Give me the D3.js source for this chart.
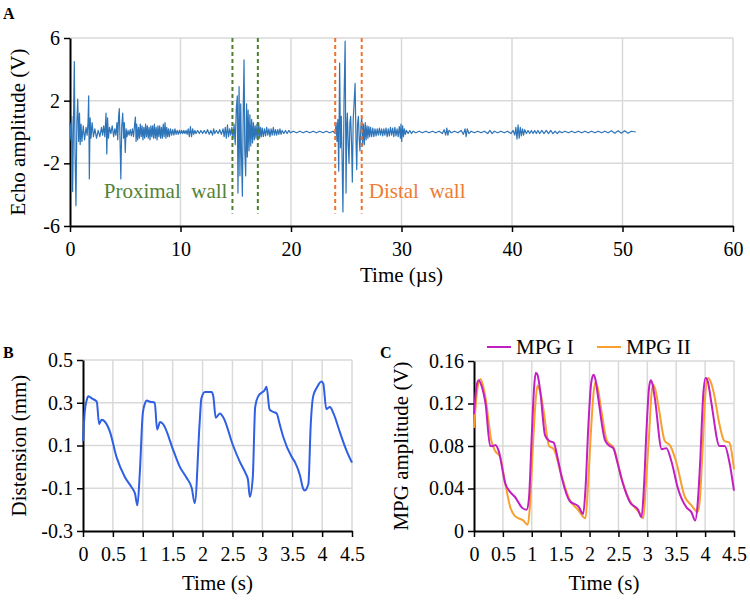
<!DOCTYPE html>
<html><head><meta charset="utf-8">
<script src="https://cdn.jsdelivr.net/npm/d3@7"></script>
<style>body{margin:0;background:#fff}svg{display:block;font-family:"Liberation Serif","Times New Roman",serif}svg text{font-family:"Liberation Serif","Times New Roman",serif}</style>
</head><body><svg id="c" width="750" height="600"></svg>
<script>
// ---------- DATA ----------
// Panel A: echo signal [time µs, amplitude V]
const echoSignal = [[0,0.6],[0.08,-0.5],[0.16,1.0],[0.24,-3.8],[0.32,0.8],[0.39,4.5],[0.46,-1.5],[0.54,-4.7],[0.62,0.6],[0.7,2.1],[0.78,-0.6],[0.86,1.2],[0.92,-0.8],[1.0,0.5],
[1.08,-0.6],[1.2,0.4],[1.32,-0.5],[1.45,0.3],[1.55,-0.2],[1.63,0.6],[1.69,2.3],[1.75,-3.0],[1.82,0.9],[1.9,-0.4],[2.0,0.6],[2.12,-0.3],[2.25,0.2],[2.4,-0.4],[2.55,0.1],[2.7,-0.3],[2.85,0.3],[2.95,-0.2],[3.05,0.4],[3.15,-0.3],[3.26,1.2],[3.33,-1.4],[3.4,0.9],[3.48,-0.4],[3.58,0.3],[3.7,-0.1],[3.82,0.4],[3.95,-0.3],[4.05,0.2],[4.15,-0.2],[4.25,0.6],[4.32,-0.5],[4.4,1.0],[4.46,1.5],[4.53,-0.6],[4.6,-3.0],[4.68,0.3],[4.77,1.2],[4.85,-0.4],[4.92,0.6],[5.0,-1.3],[5.08,0.2],[5.16,-0.3],[5.25,0.1],[5.35,-0.2],[5.45,0.15],[5.55,-0.25],[5.65,0.2],[5.75,-0.3],[5.85,0.5],[5.92,0.95],[5.98,-0.6],[6.04,0.5],[6.12,-0.5],[6.2,0.3],[6.28,-0.4],[6.36,0.5],[6.44,-0.3],[6.52,0.4],[6.6,-0.5],[6.68,0.3],[6.76,-0.4],[6.84,0.5],[6.92,-0.3],[7.0,0.4],[7.08,-0.4],[7.16,0.3],[7.24,-0.5],[7.32,0.4],[7.4,-0.3],[7.48,0.4],[7.56,-0.4],[7.64,0.5],[7.72,-0.4],[7.8,0.3],[7.88,-0.5],[7.96,0.4],[8.04,-0.3],[8.12,0.4],[8.2,-0.4],[8.28,0.3],[8.36,-0.4],[8.44,0.5],[8.52,-0.3],[8.6,0.6],[8.68,-0.4],[8.76,0.3],[8.84,-0.3],[8.92,0.2],[9.0,-0.3],[9.1,0.2],[9.2,-0.2],[9.3,0.15],[9.4,-0.2],[9.5,0.2],[9.6,-0.15],[9.7,0.1],[9.8,-0.15],[9.9,0.1],[10.0,-0.1],
[10.1,0.1],[10.2,-0.1],[10.3,0.1],[10.4,-0.1],[10.5,0.1],[10.6,-0.15],[10.7,0.2],[10.8,-0.3],[10.9,0.35],[11.0,-0.3],[11.1,0.2],[11.2,-0.15],[11.3,0.1],[11.4,-0.1],[11.55,0.1],[11.7,-0.1],[11.85,0.1],[12.0,-0.1],[12.15,0.1],[12.3,-0.1],[12.45,0.15],[12.6,-0.15],[12.75,0.1],[12.9,-0.2],[13.0,0.2],[13.1,-0.1],[13.25,0.1],[13.4,-0.1],[13.55,0.15],[13.7,-0.15],[13.85,0.2],[13.95,-0.3],[14.05,0.3],[14.15,-0.4],[14.25,0.45],[14.35,-0.3],[14.45,0.2],[14.55,-0.2],[14.65,0.3],[14.75,-0.4],[14.85,0.5],
[14.95,-0.8],[15.05,1.5],[15.14,2.3],[15.2,-3.9],[15.3,2.9],[15.38,-2.8],[15.45,1.8],[15.52,-1.5],[15.6,-4.1],[15.68,1.5],[15.75,4.6],[15.82,-1.2],[15.9,-2.8],[15.98,1.8],[16.05,-1.6],[16.12,1.4],[16.2,-1.2],[16.28,1.1],[16.36,-0.9],[16.44,0.8],[16.52,-0.7],[16.6,0.6],[16.68,-0.5],[16.76,0.4],[16.84,-0.4],[16.92,0.5],[17.0,-0.5],[17.08,0.6],[17.16,-0.4],[17.24,0.3],[17.32,-0.3],[17.4,0.25],[17.5,-0.3],[17.6,0.2],[17.7,-0.25],[17.8,0.3],[17.9,-0.2],[18.0,0.2],[18.1,-0.3],[18.2,0.2],[18.3,-0.2],[18.4,0.3],[18.5,-0.2],[18.6,0.15],[18.7,-0.2],[18.8,0.15],[18.9,-0.15],[19.0,0.2],[19.1,-0.15],[19.2,0.1],[19.35,-0.1],[19.5,0.1],[19.65,-0.1],[19.8,0.1],[19.95,-0.05],[20.2,0.05],[20.5,-0.05],[20.8,0.05],[21.1,-0.05],[21.4,0.05],[21.7,-0.05],[22.0,0.05],[22.3,-0.05],[22.6,0.05],[22.9,-0.05],[23.2,0.05],[23.5,-0.05],[23.8,0.05],[24.0,-0.1],
[24.08,0.6],[24.16,-0.6],[24.24,0.8],[24.32,-2.5],[24.4,4.4],[24.48,-1.0],[24.55,1.0],[24.62,-1.5],[24.7,-5.1],[24.8,2.0],[24.9,5.8],[24.98,-3.9],[25.05,0.5],[25.1,1.2],[25.18,-0.8],[25.25,-2.0],[25.33,0.6],[25.4,1.0],[25.48,-0.8],[25.55,-3.2],[25.63,0.8],[25.72,2.0],[25.8,3.1],[25.88,-0.5],[25.95,-2.4],[26.02,0.5],[26.1,1.0],[26.17,-0.4],[26.24,-1.2],[26.32,0.3],[26.4,1.0],[26.48,-0.9],[26.56,0.5],[26.64,-0.8],[26.72,0.6],[26.8,-0.5],[26.88,0.4],[26.96,-0.4],[27.04,0.35],[27.12,-0.3],[27.2,0.3],[27.3,-0.3],[27.4,0.25],[27.5,-0.3],[27.6,0.2],[27.7,-0.25],[27.8,0.2],[27.9,-0.2],[28.0,0.25],[28.1,-0.2],[28.2,0.2],[28.3,-0.25],[28.4,0.2],[28.5,-0.2],[28.6,0.25],[28.7,-0.3],[28.8,0.2],[28.9,-0.25],[29.0,0.3],[29.1,-0.2],[29.2,0.25],[29.3,-0.3],[29.4,0.3],[29.5,-0.25],[29.6,0.2],[29.7,-0.3],[29.8,0.35],[29.9,-0.4],[29.95,0.5],[30.02,-0.6],[30.1,0.4],[30.18,-0.3],[30.26,0.2],[30.35,-0.15],[30.45,0.1],[30.6,-0.1],[30.75,0.1],[30.9,-0.1],[31.05,0.05],[31.3,-0.05],[31.6,0.05],[31.9,-0.05],[32.2,0.05],[32.5,-0.05],[32.8,0.05],[33.1,-0.05],[33.4,0.05],[33.7,-0.1],[33.85,0.15],[34.0,-0.2],[34.1,0.25],[34.2,-0.2],[34.3,0.1],[34.5,-0.05],[34.8,0.05],[35.1,-0.05],[35.4,0.1],[35.6,-0.15],[35.75,0.2],[35.85,-0.3],[35.95,0.2],[36.1,-0.1],[36.3,0.05],[36.6,-0.05],[36.9,0.05],[37.2,-0.05],[37.5,0.05],[37.8,-0.1],[38.0,0.1],[38.2,-0.1],[38.4,0.05],[38.7,-0.05],[39.0,0.05],[39.3,-0.05],[39.6,0.05],[39.9,-0.1],[40.1,0.1],[40.25,-0.2],[40.35,0.3],[40.45,-0.45],[40.55,0.45],[40.65,-0.4],[40.75,0.3],[40.85,-0.25],[40.95,0.2],[41.05,-0.2],[41.15,0.15],[41.3,-0.1],[41.45,0.1],[41.6,-0.1],[41.75,0.1],[41.9,-0.1],[42.05,0.1],[42.2,-0.1],[42.35,0.1],[42.5,-0.1],[42.7,0.1],[42.9,-0.1],[43.1,0.1],[43.3,-0.1],[43.5,0.1],[43.7,-0.1],[43.9,0.05],[44.1,-0.1],[44.3,0.05],[44.5,-0.05],[44.8,0.05],[45.1,-0.05],[45.4,0.05],[45.7,-0.05],[46.0,0.05],[46.3,-0.05],[46.6,0.05],[46.9,-0.05],[47.2,0.05],[47.5,-0.05],[47.8,0.05],[48.1,-0.05],[48.4,0.05],[48.7,-0.05],[49.0,0.08],[49.3,-0.08],[49.6,0.08],[49.9,-0.08],[50.2,0.08],[50.5,-0.08],[50.8,0.05],[51.2,0.0]];
const proximalWall = [14.7, 17.0];
const distalWall = [24.0, 26.4];
const echoXTicks = [0,10,20,30,40,50,60];
const echoYTicks = [-6,-2,2,6];

// Panel B: distension [time s, mm]
const distension = [[0,0.12],[0.03,0.26],[0.06,0.31],[0.09,0.33],[0.15,0.32],[0.23,0.305],[0.27,0.2],[0.31,0.22],[0.37,0.21],[0.45,0.165],[0.56,0.047],[0.7,-0.047],[0.81,-0.094],[0.87,-0.125],[0.91,-0.18],[0.95,-0.03],[1.0,0.25],[1.04,0.3],[1.065,0.31],[1.12,0.305],[1.2,0.30],[1.24,0.175],[1.29,0.21],[1.34,0.2],[1.51,0.078],[1.62,0.0],[1.73,-0.05],[1.82,-0.1],[1.87,-0.17],[1.95,0.2],[1.98,0.32],[2.04,0.35],[2.15,0.35],[2.18,0.33],[2.22,0.23],[2.29,0.25],[2.35,0.23],[2.51,0.1],[2.63,0.02],[2.72,-0.03],[2.76,-0.06],[2.79,-0.14],[2.84,-0.05],[2.88,0.28],[2.93,0.33],[3.04,0.36],[3.07,0.375],[3.12,0.27],[3.16,0.26],[3.24,0.25],[3.29,0.2],[3.35,0.14],[3.49,0.047],[3.55,0.02],[3.63,-0.04],[3.68,-0.1],[3.71,-0.11],[3.77,-0.08],[3.81,0.2],[3.85,0.33],[3.91,0.37],[3.99,0.4],[4.02,0.39],[4.07,0.27],[4.13,0.28],[4.19,0.25],[4.3,0.16],[4.41,0.075],[4.5,0.02]];
const timeTicks = [0,0.5,1,1.5,2,2.5,3,3.5,4,4.5];
const distYTicks = [-0.3,-0.1,0.1,0.3,0.5];

// Panel C: MPG amplitudes [time s, V]
const mpg1 = [[0,0.11],[0.04,0.135],[0.08,0.142],[0.14,0.135],[0.2,0.12],[0.28,0.08],[0.33,0.08],[0.37,0.081],[0.43,0.075],[0.54,0.045],[0.62,0.037],[0.71,0.032],[0.83,0.022],[0.91,0.02],[0.95,0.03],[1.0,0.09],[1.04,0.135],[1.07,0.149],[1.1,0.147],[1.15,0.13],[1.23,0.09],[1.3,0.085],[1.38,0.083],[1.45,0.068],[1.52,0.05],[1.66,0.028],[1.81,0.023],[1.89,0.016],[1.93,0.04],[1.98,0.1],[2.03,0.14],[2.07,0.147],[2.1,0.143],[2.15,0.125],[2.27,0.085],[2.35,0.08],[2.41,0.078],[2.48,0.065],[2.56,0.048],[2.7,0.027],[2.84,0.02],[2.9,0.013],[2.94,0.04],[2.99,0.1],[3.03,0.135],[3.06,0.142],[3.09,0.138],[3.13,0.125],[3.25,0.077],[3.33,0.078],[3.42,0.065],[3.53,0.04],[3.68,0.022],[3.76,0.018],[3.83,0.01],[3.87,0.025],[3.91,0.06],[3.97,0.13],[4.01,0.144],[4.05,0.14],[4.11,0.12],[4.25,0.08],[4.34,0.08],[4.42,0.065],[4.5,0.038]];
const mpg2 = [[0,0.097],[0.05,0.13],[0.11,0.143],[0.15,0.138],[0.2,0.125],[0.3,0.085],[0.37,0.075],[0.45,0.07],[0.55,0.042],[0.63,0.022],[0.71,0.014],[0.85,0.01],[0.93,0.006],[0.97,0.025],[1.02,0.08],[1.07,0.125],[1.1,0.137],[1.14,0.132],[1.2,0.115],[1.3,0.08],[1.38,0.077],[1.5,0.055],[1.65,0.03],[1.8,0.02],[1.93,0.012],[1.97,0.04],[2.02,0.09],[2.07,0.13],[2.1,0.14],[2.14,0.135],[2.2,0.115],[2.3,0.085],[2.42,0.078],[2.55,0.05],[2.7,0.028],[2.85,0.018],[2.93,0.012],[2.97,0.04],[3.03,0.09],[3.07,0.128],[3.1,0.138],[3.14,0.133],[3.2,0.115],[3.3,0.085],[3.4,0.08],[3.5,0.065],[3.65,0.032],[3.75,0.025],[3.87,0.018],[3.91,0.03],[3.95,0.07],[4.0,0.125],[4.05,0.144],[4.1,0.14],[4.15,0.13],[4.25,0.1],[4.33,0.085],[4.42,0.083],[4.5,0.058]];
const mpgYTicks = [0,0.04,0.08,0.12,0.16];
const seriesNames = ["MPG I","MPG II"];

// ---------- DRAWING ----------
const svg = d3.select("#c");
const GRID = "#d9d9d9", TICKFS = 20, TITLEFS = 21, FONT = "Liberation Serif, Times New Roman, serif";
const fmt = v => String(v);

function panel(opt){
  const g = svg.append("g");
  const {x, y, xTicks, yTicks} = opt;
  const [x0,x1] = x.range(), [y0,y1] = y.range();
  g.selectAll(".gx").data(xTicks.slice(1)).join("line")
    .attr("x1",d=>x(d)).attr("x2",d=>x(d)).attr("y1",y0).attr("y2",y1)
    .attr("stroke",GRID).attr("stroke-width",1.5);
  g.selectAll(".gy").data(yTicks.filter(v=>v!==y.domain()[0])).join("line")
    .attr("y1",d=>y(d)).attr("y2",d=>y(d)).attr("x1",x0).attr("x2",x1)
    .attr("stroke",GRID).attr("stroke-width",1.5);
  const ax = g.append("g").attr("transform",`translate(0,${y0})`)
    .call(d3.axisBottom(x).tickValues(xTicks).tickFormat(fmt).tickSize(6).tickPadding(opt.xPad||11).tickSizeOuter(0));
  const ay = g.append("g").attr("transform",`translate(${x0},0)`)
    .call(d3.axisLeft(y).tickValues(yTicks).tickFormat(fmt).tickSize(6).tickPadding(opt.yPad||3).tickSizeOuter(0));
  [ax,ay].forEach(a=>{
    a.attr("font-family",FONT).attr("font-size",TICKFS);
    a.select(".domain").attr("stroke","#000").attr("stroke-width",2);
    a.selectAll(".tick line").attr("stroke","#000").attr("stroke-width",1.5);
    a.selectAll(".tick text").attr("font-size",TICKFS).attr("font-family",FONT).attr("fill","#000");
  });
  ax.selectAll(".tick text").attr("dy","0.75em");
  g.append("text").attr("x",(x0+x1)/2+(opt.xtDx||0)).attr("y",opt.xtY).attr("text-anchor","middle")
    .attr("font-size",TITLEFS).text(opt.xTitle);
  g.append("text").attr("transform",`translate(${opt.ytX},${(y0+y1)/2+(opt.ytDy||0)}) rotate(-90)`)
    .attr("text-anchor","middle").attr("font-size",TITLEFS).text(opt.yTitle);
  g.append("text").attr("x",opt.lab[0]).attr("y",opt.lab[1]).attr("font-size",16).attr("font-weight","bold").text(opt.label);
  return g;
}

// Panel A
const xA = d3.scaleLinear([0,60],[70,733]);
const yA = d3.scaleLinear([-6,6],[226,38]);
const gA = panel({x:xA,y:yA,xTicks:echoXTicks,yTicks:echoYTicks,xTitle:"Time (µs)",yTitle:"Echo amplitude (V)",
  xtY:282,ytX:25,xPad:9,yPad:4,label:"A",lab:[3,19],ytDy:0});
gA.append("path").datum(echoSignal)
  .attr("d",d3.line().x(d=>xA(d[0])).y(d=>yA(d[1])))
  .attr("fill","none").attr("stroke","#2e74b8").attr("stroke-width",1.2).attr("stroke-linejoin","round");
const wallLines = [{xs:proximalWall,c:"#4f7f2c"},{xs:distalWall,c:"#ee7330"}];
wallLines.forEach(w=>{
  gA.selectAll(null).data(w.xs).join("line")
    .attr("x1",d=>xA(d)).attr("x2",d=>xA(d)).attr("y1",yA(6)).attr("y2",yA(-5.2))
    .attr("stroke",w.c).attr("stroke-width",2).attr("stroke-dasharray","4,3");
});
gA.append("text").attr("x",xA(proximalWall[0])-5).attr("y",198).attr("text-anchor","end")
  .attr("font-size",TITLEFS).attr("fill","#548235").attr("xml:space","preserve").text("Proximal  wall");
gA.append("text").attr("x",xA(distalWall[1])+7).attr("y",198)
  .attr("font-size",TITLEFS).attr("fill","#ed7d31").attr("xml:space","preserve").text("Distal  wall");

// Panel B
const xB = d3.scaleLinear([0,4.5],[83,352]);
const yB = d3.scaleLinear([-0.3,0.5],[531,360]);
const gB = panel({x:xB,y:yB,xTicks:timeTicks,yTicks:distYTicks,xTitle:"Time (s)",yTitle:"Distension (mm)",
  xtY:590,ytX:26,xPad:9,yPad:4,label:"B",lab:[3,358]});
gB.append("path").datum(distension)
  .attr("d",d3.line().curve(d3.curveMonotoneX).x(d=>xB(d[0])).y(d=>yB(d[1])))
  .attr("fill","none").attr("stroke","#2f5fe3").attr("stroke-width",2);

// Panel C
const xC = d3.scaleLinear([0,4.5],[474,734]);
const yC = d3.scaleLinear([0,0.16],[531,361]);
const gC = panel({x:xC,y:yC,xTicks:timeTicks,yTicks:mpgYTicks,xTitle:"Time (s)",yTitle:"MPG amplitude (V)",
  xtY:590,ytX:408,xPad:9,yPad:4,label:"C",lab:[380,358]});
const colC = ["#c21fc2","#f7a030"];
[mpg2,mpg1].forEach((s,i)=>{
  gC.append("path").datum(s)
    .attr("d",d3.line().curve(d3.curveMonotoneX).x(d=>xC(d[0])).y(d=>yC(d[1])))
    .attr("fill","none").attr("stroke",i===0?colC[1]:colC[0]).attr("stroke-width",2);
});
const legX = [487,597];
seriesNames.forEach((n,i)=>{
  gC.append("line").attr("x1",legX[i]).attr("x2",legX[i]+24).attr("y1",347).attr("y2",347)
    .attr("stroke",colC[i]).attr("stroke-width",2);
  gC.append("text").attr("x",legX[i]+29).attr("y",354).attr("font-size",TITLEFS).text(n);
});
</script></body></html>
